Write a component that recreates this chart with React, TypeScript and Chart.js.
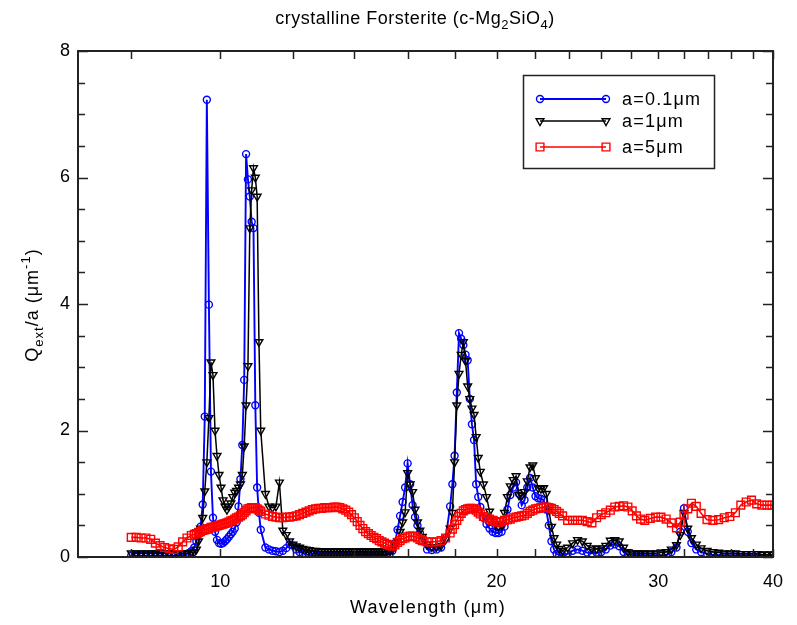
import { useEffect, useRef } from "react";
import { Chart, registerables } from "chart.js";

Chart.register(...registerables);

// Wavelength grid (μm) shared by the three grain sizes
const wavelengthUm = [
  8.0, 8.1, 8.2, 8.3, 8.4, 8.5, 8.6, 8.7, 8.8, 8.9, 9.0, 9.1, 9.2, 9.3,
  9.37, 9.42, 9.47, 9.52, 9.57, 9.62, 9.67, 9.72, 9.77, 9.82, 9.87, 9.92, 9.97, 10.02, 10.07, 10.12, 10.17, 10.22, 10.27, 10.32, 10.37, 10.42, 10.47, 10.52, 10.57, 10.62, 10.67, 10.72, 10.77, 10.82, 10.87, 10.92, 10.97, 11.02, 11.07,
  11.2, 11.3, 11.4, 11.5, 11.6, 11.7, 11.8, 11.9, 12.0, 12.1, 12.2, 12.3, 12.4, 12.5, 12.6, 12.7, 12.8, 12.9, 13.0, 13.1, 13.2, 13.3, 13.4, 13.5, 13.6, 13.7, 13.8, 13.9, 14.0, 14.1, 14.2, 14.3, 14.4, 14.5, 14.6, 14.7, 14.8, 14.9, 15.0, 15.1, 15.2, 15.3, 15.4, 15.5, 15.6, 15.7, 15.8,
  15.9, 16.0, 16.1, 16.2, 16.3, 16.4, 16.5, 16.6, 16.8, 17.0, 17.2, 17.4, 17.6, 17.8, 17.9, 18.0, 18.1, 18.2, 18.3, 18.4, 18.5, 18.6, 18.7, 18.8, 18.9, 19.0, 19.1, 19.2, 19.35, 19.5, 19.65, 19.8, 19.95, 20.1, 20.25, 20.4, 20.55, 20.7, 20.85, 21.0, 21.15, 21.3, 21.45, 21.6, 21.75, 21.9, 22.05, 22.2, 22.35, 22.5, 22.65, 22.8, 22.95, 23.1, 23.25, 23.4,
  23.6, 23.9, 24.2, 24.5, 24.8, 25.1, 25.4, 25.7, 26.0, 26.3, 26.6, 26.9, 27.2, 27.5, 27.8, 28.1, 28.4, 28.7, 29.0, 29.4, 29.8, 30.2, 30.6, 31.0, 31.4, 31.7, 32.0, 32.3, 32.6, 33.0, 33.4, 33.9, 34.4, 34.9, 35.4, 35.9, 36.4, 36.9, 37.4, 37.9, 38.4, 38.9, 39.4, 39.9,
];

// Q_ext / a (μm^-1) for a = 0.1 μm
const qextA01 = [
  0.02, 0.02, 0.02, 0.02, 0.02, 0.02, 0.02, 0.02, 0.02, 0.02, 0.03, 0.03, 0.05, 0.09,
  0.15, 0.25, 0.35, 0.48, 0.83, 2.22, 7.23, 3.99, 1.35, 0.62, 0.40, 0.27, 0.22, 0.21, 0.22, 0.25, 0.28, 0.32, 0.36, 0.40, 0.45, 0.55, 0.80, 1.23, 1.77, 2.80, 6.37, 5.97, 5.70, 5.30, 5.20, 2.40, 1.10, 0.70, 0.43,
  0.15, 0.12, 0.10, 0.09, 0.08, 0.10, 0.14, 0.20, 0.18, 0.12, 0.08, 0.06, 0.04, 0.03, 0.03, 0.02, 0.02, 0.02, 0.02, 0.02, 0.02, 0.02, 0.02, 0.02, 0.02, 0.02, 0.02, 0.02, 0.02, 0.02, 0.02, 0.02, 0.02, 0.02, 0.02, 0.02, 0.03, 0.03, 0.03, 0.03, 0.04, 0.05, 0.10, 0.22, 0.43, 0.65, 0.87,
  1.10, 1.48, 1.15, 0.82, 0.63, 0.50, 0.38, 0.25, 0.12, 0.11, 0.12, 0.15, 0.30, 0.80, 1.15, 1.60, 2.60, 3.54, 3.45, 3.35, 3.20, 3.11, 2.50, 2.10, 1.85, 1.15, 0.95, 0.79, 0.62, 0.52, 0.45, 0.40, 0.38, 0.38, 0.40, 0.48, 0.75, 0.98, 1.10, 1.18, 1.00, 0.82, 0.90, 1.10, 1.25, 1.10, 0.96, 0.93, 0.92, 0.90, 0.75, 0.50, 0.25, 0.12, 0.05, 0.03,
  0.03, 0.05, 0.10, 0.12, 0.10, 0.07, 0.06, 0.07, 0.08, 0.12, 0.18, 0.20, 0.17, 0.08, 0.04, 0.03, 0.03, 0.03, 0.03, 0.03, 0.03, 0.03, 0.03, 0.08, 0.15, 0.40, 0.77, 0.40, 0.22, 0.12, 0.08, 0.05, 0.03, 0.03, 0.03, 0.03, 0.03, 0.03, 0.03, 0.03, 0.03, 0.03, 0.03, 0.03,
];

// Q_ext / a (μm^-1) for a = 1 μm
const qextA1 = [
  0.06, 0.06, 0.06, 0.06, 0.06, 0.06, 0.06, 0.06, 0.06, 0.06, 0.06, 0.06, 0.06, 0.07,
  0.08, 0.12, 0.25, 0.45, 0.62, 1.04, 1.50, 2.20, 3.08, 2.88, 2.00, 1.60, 1.30, 1.10, 0.90, 0.80, 0.75, 0.80, 0.85, 0.95, 1.02, 1.05, 1.10, 1.15, 1.30, 1.75, 2.40, 3.02, 5.20, 5.80, 6.15, 6.00, 5.70, 3.40, 2.00,
  1.00, 0.80, 0.78, 0.80, 1.18, 0.42, 0.35, 0.25, 0.20, 0.17, 0.15, 0.13, 0.12, 0.11, 0.10, 0.10, 0.09, 0.09, 0.09, 0.09, 0.09, 0.09, 0.09, 0.09, 0.09, 0.09, 0.09, 0.09, 0.09, 0.09, 0.09, 0.09, 0.09, 0.09, 0.09, 0.09, 0.09, 0.09, 0.09, 0.09, 0.10, 0.10, 0.12, 0.17, 0.25, 0.40, 0.55,
  0.71, 1.33, 1.15, 1.03, 0.75, 0.55, 0.42, 0.32, 0.20, 0.16, 0.16, 0.18, 0.28, 0.45, 0.70, 1.50, 2.40, 2.90, 3.20, 3.40, 3.10, 2.70, 2.50, 2.35, 2.25, 1.90, 1.57, 1.35, 1.15, 0.95, 0.72, 0.60, 0.52, 0.48, 0.50, 0.70, 0.95, 1.12, 1.22, 1.28, 0.98, 0.97, 1.03, 1.20, 1.42, 1.45, 1.25, 1.09, 1.08, 1.09, 1.00, 0.75, 0.48, 0.30, 0.20, 0.13,
  0.10, 0.15, 0.22, 0.27, 0.25, 0.18, 0.14, 0.13, 0.14, 0.18, 0.26, 0.27, 0.25, 0.15, 0.08, 0.06, 0.06, 0.06, 0.06, 0.06, 0.06, 0.07, 0.08, 0.12, 0.19, 0.35, 0.70, 0.45, 0.30, 0.20, 0.14, 0.10, 0.08, 0.07, 0.06, 0.06, 0.06, 0.05, 0.05, 0.05, 0.05, 0.04, 0.04, 0.04,
];

// Q_ext / a (μm^-1) for a = 5 μm
const qextA5 = [
  0.31, 0.31, 0.30, 0.30, 0.28, 0.22, 0.18, 0.15, 0.13, 0.12, 0.16, 0.24, 0.30, 0.34,
  0.36, 0.37, 0.39, 0.40, 0.42, 0.43, 0.44, 0.45, 0.47, 0.47, 0.48, 0.49, 0.50, 0.51, 0.52, 0.53, 0.54, 0.55, 0.57, 0.58, 0.60, 0.62, 0.63, 0.65, 0.67, 0.70, 0.73, 0.76, 0.77, 0.78, 0.78, 0.78, 0.76, 0.74, 0.72,
  0.68, 0.66, 0.64, 0.63, 0.62, 0.62, 0.63, 0.63, 0.64, 0.65, 0.67, 0.69, 0.71, 0.73, 0.75, 0.76, 0.77, 0.77, 0.78, 0.78, 0.78, 0.79, 0.79, 0.78, 0.76, 0.74, 0.71, 0.67, 0.62, 0.56, 0.50, 0.45, 0.40, 0.37, 0.34, 0.31, 0.29, 0.26, 0.24, 0.22, 0.20, 0.18, 0.17, 0.19, 0.23, 0.26, 0.29,
  0.30, 0.32, 0.33, 0.33, 0.32, 0.30, 0.28, 0.26, 0.24, 0.24, 0.24, 0.26, 0.30, 0.38, 0.44, 0.51, 0.58, 0.64, 0.69, 0.73, 0.75, 0.76, 0.77, 0.77, 0.76, 0.74, 0.71, 0.68, 0.64, 0.62, 0.60, 0.58, 0.56, 0.55, 0.56, 0.58, 0.59, 0.60, 0.62, 0.63, 0.64, 0.65, 0.66, 0.69, 0.72, 0.74, 0.76, 0.77, 0.78, 0.79, 0.79, 0.78, 0.77, 0.75, 0.72, 0.69,
  0.65, 0.58, 0.58, 0.58, 0.58, 0.56, 0.54, 0.62, 0.67, 0.70, 0.74, 0.79, 0.80, 0.81, 0.79, 0.73, 0.65, 0.60, 0.58, 0.61, 0.63, 0.63, 0.60, 0.54, 0.46, 0.55, 0.66, 0.76, 0.85, 0.80, 0.69, 0.59, 0.58, 0.59, 0.62, 0.64, 0.70, 0.82, 0.87, 0.90, 0.84, 0.82, 0.82, 0.82,
];

const seriesLabels = ["a=0.1μm", "a=1μm", "a=5μm"];

// Axis ticks
const xTickValues = [8, 10, 12, 14, 16, 18, 20, 22, 24, 26, 28, 30, 32, 34, 36, 38, 40];
const xTickLabels = [10, 20, 30, 40];
const yMajorTicks = [0, 2, 4, 6, 8];
const yMinorTicks = [0.5, 1, 1.5, 2.5, 3, 3.5, 4.5, 5, 5.5, 6.5, 7, 7.5];

const FONT = '"Liberation Sans", Arial, Helvetica, sans-serif';
const BLUE = "#0000ff";
const BLACK = "#000000";
const RED = "#ff0000";

type Seg = { text: string; size: number; dy?: number };

function setSpacing(ctx: CanvasRenderingContext2D, px: number) {
  (ctx as any).letterSpacing = `${px}px`;
}

function segWidth(ctx: CanvasRenderingContext2D, segs: Seg[]) {
  let w = 0;
  for (const s of segs) {
    ctx.font = `${s.size}px ${FONT}`;
    w += ctx.measureText(s.text).width;
  }
  return w;
}

function drawSegs(
  ctx: CanvasRenderingContext2D,
  segs: Seg[],
  x: number,
  y: number,
  center: boolean,
  spacing = 0
) {
  setSpacing(ctx, spacing);
  let cx = center ? x - segWidth(ctx, segs) / 2 : x;
  ctx.textBaseline = "alphabetic";
  ctx.textAlign = "left";
  for (const s of segs) {
    ctx.font = `${s.size}px ${FONT}`;
    ctx.fillText(s.text, cx, y + (s.dy || 0));
    cx += ctx.measureText(s.text).width;
  }
  setSpacing(ctx, 0);
}

function drawMarker(ctx: CanvasRenderingContext2D, kind: string, x: number, y: number, color: string) {
  ctx.strokeStyle = color;
  ctx.lineWidth = 1.4;
  ctx.beginPath();
  if (kind === "circle") {
    ctx.arc(x, y, 3.5, 0, Math.PI * 2);
  } else if (kind === "triangle") {
    const r = 4.5;
    ctx.moveTo(x - r * 0.866, y - r * 0.5);
    ctx.lineTo(x + r * 0.866, y - r * 0.5);
    ctx.lineTo(x, y + r);
    ctx.closePath();
  } else {
    ctx.rect(x - 3.9, y - 3.9, 7.8, 7.8);
  }
  ctx.stroke();
}

const decorPlugin = {
  id: "decor",
  afterDraw(chart: any) {
    const { ctx, chartArea: a, scales } = chart;
    const xs = scales.x;
    const ys = scales.y;
    ctx.save();

    // inward tick marks on all four sides
    ctx.strokeStyle = "#222";
    ctx.lineWidth = 1.5;
    ctx.beginPath();
    for (const v of xTickValues) {
      const px = Math.round(xs.getPixelForValue(v)) + 0.5;
      ctx.moveTo(px, a.bottom);
      ctx.lineTo(px, a.bottom - 8);
      ctx.moveTo(px, a.top);
      ctx.lineTo(px, a.top + 8);
    }
    const yTicks = [
      ...yMajorTicks.map((v) => [v, 10]),
      ...yMinorTicks.map((v) => [v, 7]),
    ];
    for (const [v, len] of yTicks) {
      const py = Math.round(ys.getPixelForValue(v)) + 0.5;
      ctx.moveTo(a.left, py);
      ctx.lineTo(a.left + len, py);
      ctx.moveTo(a.right, py);
      ctx.lineTo(a.right - len, py);
    }
    ctx.stroke();

    // frame
    ctx.lineWidth = 2;
    ctx.strokeRect(a.left, a.top, a.right - a.left, a.bottom - a.top);

    // chart title
    ctx.fillStyle = "#000";
    drawSegs(
      ctx,
      [
        { text: "crystalline Forsterite (c-Mg", size: 18 },
        { text: "2", size: 13, dy: 5 },
        { text: "SiO", size: 18 },
        { text: "4", size: 13, dy: 5 },
        { text: ")", size: 18 },
      ],
      415,
      24,
      true,
      0.5
    );

    // x axis title
    drawSegs(ctx, [{ text: "Wavelength (μm)", size: 18 }], 428, 613, true, 1.3);

    // y axis title
    ctx.save();
    ctx.translate(38, 305);
    ctx.rotate(-Math.PI / 2);
    drawSegs(
      ctx,
      [
        { text: "Q", size: 18 },
        { text: "ext", size: 13, dy: 5 },
        { text: "/a (μm", size: 18 },
        { text: "-1", size: 13, dy: -8 },
        { text: ")", size: 18 },
      ],
      0,
      0,
      true,
      1
    );
    ctx.restore();

    // legend
    ctx.strokeStyle = "#222";
    ctx.lineWidth = 1.5;
    ctx.strokeRect(523.5, 75.5, 191, 93);
    const rows = [99, 121, 147];
    const styles = [
      { color: BLUE, kind: "circle", width: 1.8 },
      { color: BLACK, kind: "triangle", width: 1.4 },
      { color: RED, kind: "rect", width: 1.6 },
    ];
    rows.forEach((ry, i) => {
      const st = styles[i];
      ctx.strokeStyle = st.color;
      ctx.lineWidth = st.width;
      ctx.beginPath();
      ctx.moveTo(540, ry);
      ctx.lineTo(606, ry);
      ctx.stroke();
      drawMarker(ctx, st.kind, 540, ry, st.color);
      drawMarker(ctx, st.kind, 606, ry, st.color);
      ctx.fillStyle = "#000";
      drawSegs(ctx, [{ text: seriesLabels[i], size: 18 }], 622, ry + 6, false, 1.2);
    });

    ctx.restore();
  },
};

export default function App() {
  const canvasRef = useRef<HTMLCanvasElement>(null);

  useEffect(() => {
    const canvas = canvasRef.current;
    if (!canvas) return;
    const toPoints = (vals: number[]) => wavelengthUm.map((w, i) => ({ x: w, y: vals[i] }));

    const chart = new Chart(canvas, {
      type: "line",
      data: {
        datasets: [
          {
            label: seriesLabels[0],
            data: toPoints(qextA01),
            borderColor: BLUE,
            borderWidth: 1.9,
            pointStyle: "circle",
            pointRadius: 3.5,
            pointBorderWidth: 1.4,
            pointBorderColor: BLUE,
            pointBackgroundColor: "rgba(0,0,0,0)",
            tension: 0,
            order: 3,
          },
          {
            label: seriesLabels[1],
            data: toPoints(qextA1),
            borderColor: BLACK,
            borderWidth: 1.5,
            pointStyle: "triangle",
            pointRotation: 180,
            pointRadius: 4.5,
            pointBorderWidth: 1.4,
            pointBorderColor: BLACK,
            pointBackgroundColor: "rgba(0,0,0,0)",
            tension: 0,
            order: 2,
          },
          {
            label: seriesLabels[2],
            data: toPoints(qextA5),
            borderColor: RED,
            borderWidth: 1.6,
            pointStyle: "rect",
            pointRadius: 5.5,
            pointBorderWidth: 1.4,
            pointBorderColor: RED,
            pointBackgroundColor: "rgba(0,0,0,0)",
            tension: 0,
            order: 1,
          },
        ],
      },
      options: {
        responsive: false,
        devicePixelRatio: 1,
        animation: false,
        events: [],
        layout: { padding: { left: 0, right: 15, top: 51, bottom: 0 } },
        plugins: {
          legend: { display: false },
          title: { display: false },
          tooltip: { enabled: false },
        },
        scales: {
          x: {
            type: "logarithmic",
            min: 7,
            max: 40,
            grid: { display: false, drawTicks: false },
            border: { display: false },
            afterBuildTicks: (scale: any) => {
              scale.ticks = xTickValues.map((v) => ({ value: v }));
            },
            afterFit: (scale: any) => {
              scale.height = 68;
            },
            ticks: {
              autoSkip: false,
              maxRotation: 0,
              minRotation: 0,
              padding: 14,
              color: "#000",
              font: { family: FONT, size: 18 },
              callback: (value: any) => (xTickLabels.includes(Number(value)) ? String(value) : ""),
            },
          },
          y: {
            type: "linear",
            min: 0,
            max: 8,
            grid: { display: false, drawTicks: false },
            border: { display: false },
            afterFit: (scale: any) => {
              scale.width = 78;
            },
            ticks: {
              stepSize: 2,
              padding: 8,
              color: "#000",
              font: { family: FONT, size: 18 },
            },
          },
        },
      },
      plugins: [decorPlugin],
    });

    return () => chart.destroy();
  }, []);

  return (
    <div style={{ position: "fixed", left: 0, top: 0, width: 797, height: 625, background: "#fff" }}>
      <canvas ref={canvasRef} width={797} height={625} style={{ display: "block", width: 797, height: 625 }} />
    </div>
  );
}
